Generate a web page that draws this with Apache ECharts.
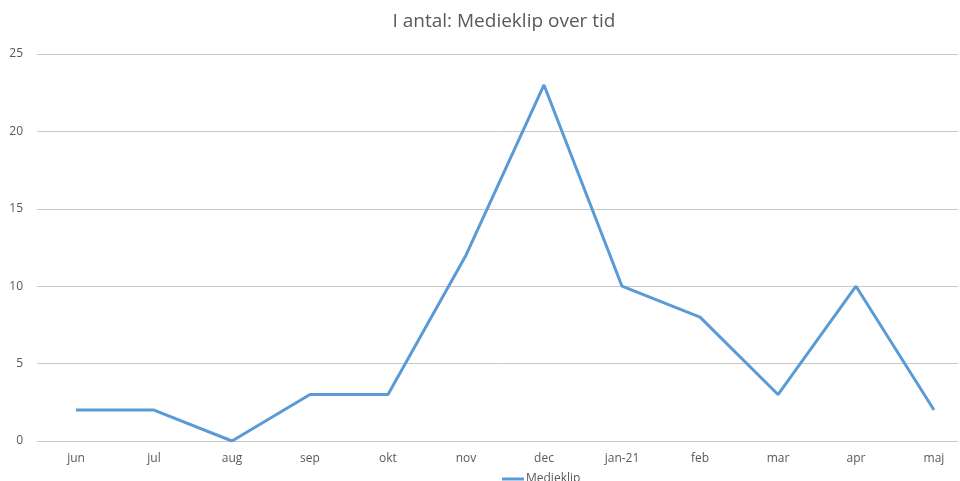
<!DOCTYPE html>
<html>
<head>
<meta charset="utf-8">
<script src="https://cdn.jsdelivr.net/npm/echarts@6/dist/echarts.min.js"></script>
<style>
    html, body { margin: 0; padding: 0; background: #fff; }
    #chart { width: 960px; height: 481px; }
</style>
</head>
<body>
<div id="chart"></div>
<script>
// måneder
const months = ['jun', 'jul', 'aug', 'sep', 'okt', 'nov', 'dec', 'jan-21', 'feb', 'mar', 'apr', 'maj'];
// antal medieklip
const medieklip = [2, 2, 0, 3, 3, 12, 23, 10, 8, 3, 10, 2];
const seriesName = 'Medieklip';
const titleText = 'I antal: Medieklip over tid';

const font = '"Open Sans", sans-serif';

const chart = echarts.init(document.getElementById('chart'), null, { renderer: 'canvas' });

const option = {
    animation: false,
    color: ['#5b9bd5'],
    title: {
        text: titleText,
        left: 499,
        textAlign: 'center',
        top: 7,
        textStyle: {
            color: '#595959',
            fontSize: 19,
            fontWeight: 'normal',
            fontFamily: font
        }
    },
    legend: {
        left: 497,
        top: 468,
        itemWidth: 22,
        itemHeight: 3,
        itemGap: 4,
        icon: 'rect',
        textStyle: {
            color: '#595959',
            fontSize: 12,
            fontFamily: font,
            padding: [0, 0, 0, -3]
        },
        data: [seriesName]
    },
    // grid 0: gitterlinjer og y-akse, grid 1: selve kurven
    grid: [
        { left: 37, top: 54, right: 2, height: 387 },
        { left: 76, top: 54, width: 858, height: 387 }
    ],
    xAxis: [
        {
            gridIndex: 0,
            type: 'value',
            show: false
        },
        {
            gridIndex: 1,
            type: 'category',
            data: months,
            boundaryGap: false,
            axisLine: { show: false },
            axisTick: { show: false },
            axisLabel: {
                color: '#595959',
                fontSize: 12,
                fontFamily: font,
                margin: 12
            }
        }
    ],
    yAxis: [
        {
            gridIndex: 0,
            type: 'value',
            min: 0,
            max: 25,
            interval: 5,
            axisLine: { show: false },
            axisTick: { show: false },
            axisLabel: {
                color: '#595959',
                fontSize: 12,
                fontFamily: font,
                margin: 14
            },
            splitLine: {
                lineStyle: { color: '#c8c8c8', width: 1 }
            }
        },
        {
            gridIndex: 1,
            type: 'value',
            min: 0,
            max: 25,
            interval: 5,
            show: false,
            splitLine: { show: false }
        }
    ],
    series: [
        {
            name: seriesName,
            type: 'line',
            xAxisIndex: 1,
            yAxisIndex: 1,
            data: medieklip,
            symbol: 'none',
            lineStyle: { width: 3, color: '#5b9bd5' }
        }
    ]
};

chart.setOption(option);
</script>
</body>
</html>
